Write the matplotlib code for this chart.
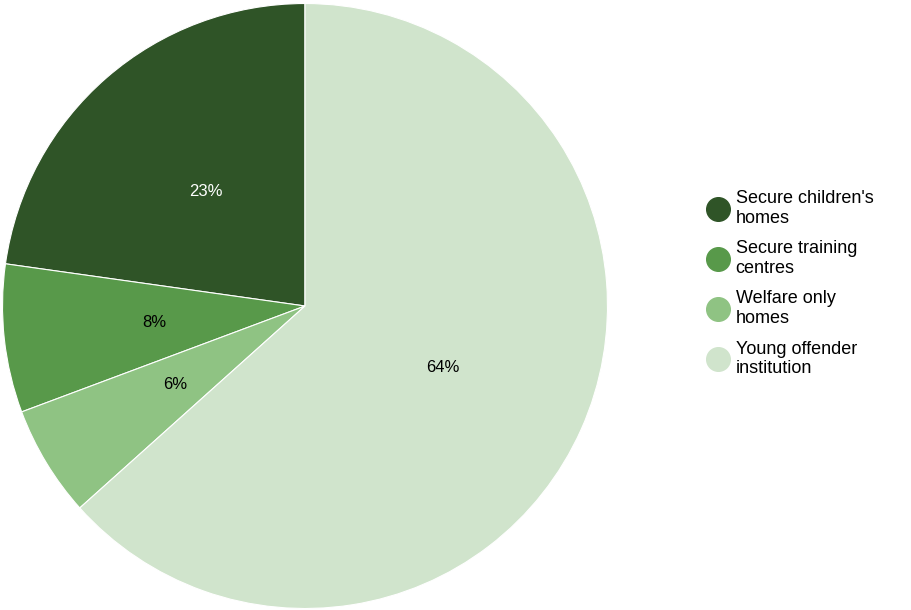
import matplotlib.pyplot as plt
from matplotlib.lines import Line2D

# data
categories = ["Secure children's\nhomes", "Secure training\ncentres",
              "Welfare only\nhomes", "Young offender\ninstitution"]
shares = [23, 8, 6, 64]
colors = ["#2f5427", "#58994a", "#8fc383", "#d0e4cc"]
label_colors = ["white", "black", "black", "black"]

plt.rcParams["font.family"] = "Liberation Sans"

fig = plt.figure(figsize=(9.12, 6.10), dpi=100)
ax = fig.add_axes([1 / 912, 0, 608 / 912, 608 / 610])

wedges, texts = ax.pie(
    shares, colors=colors, startangle=90, counterclock=True,
    wedgeprops=dict(edgecolor="white", linewidth=0.8),
)
ax.set_xlim(-1.005, 1.005)
ax.set_ylim(-1.005, 1.005)
ax.set_aspect("equal")

total = sum(shares)
import numpy as np
angle = 90.0
for w, s, c in zip(wedges, shares, label_colors):
    mid = np.deg2rad(angle + 360 * s / total / 2)
    angle += 360 * s / total
    ax.text(0.5 * np.cos(mid), 0.5 * np.sin(mid), f"{s}%", color=c,
            ha="center", va="center", fontsize=12)

handles = [Line2D([], [], marker="o", linestyle="none", markersize=17,
                  markerfacecolor=c, markeredgecolor=c) for c in colors]
fig.legend(handles, categories, loc="center left", bbox_to_anchor=(0.765, 0.535),
           frameon=False, fontsize=13, labelspacing=0.75, handletextpad=0.4,
           handlelength=1.2, borderpad=0)

fig.savefig("out.png", dpi=100)
